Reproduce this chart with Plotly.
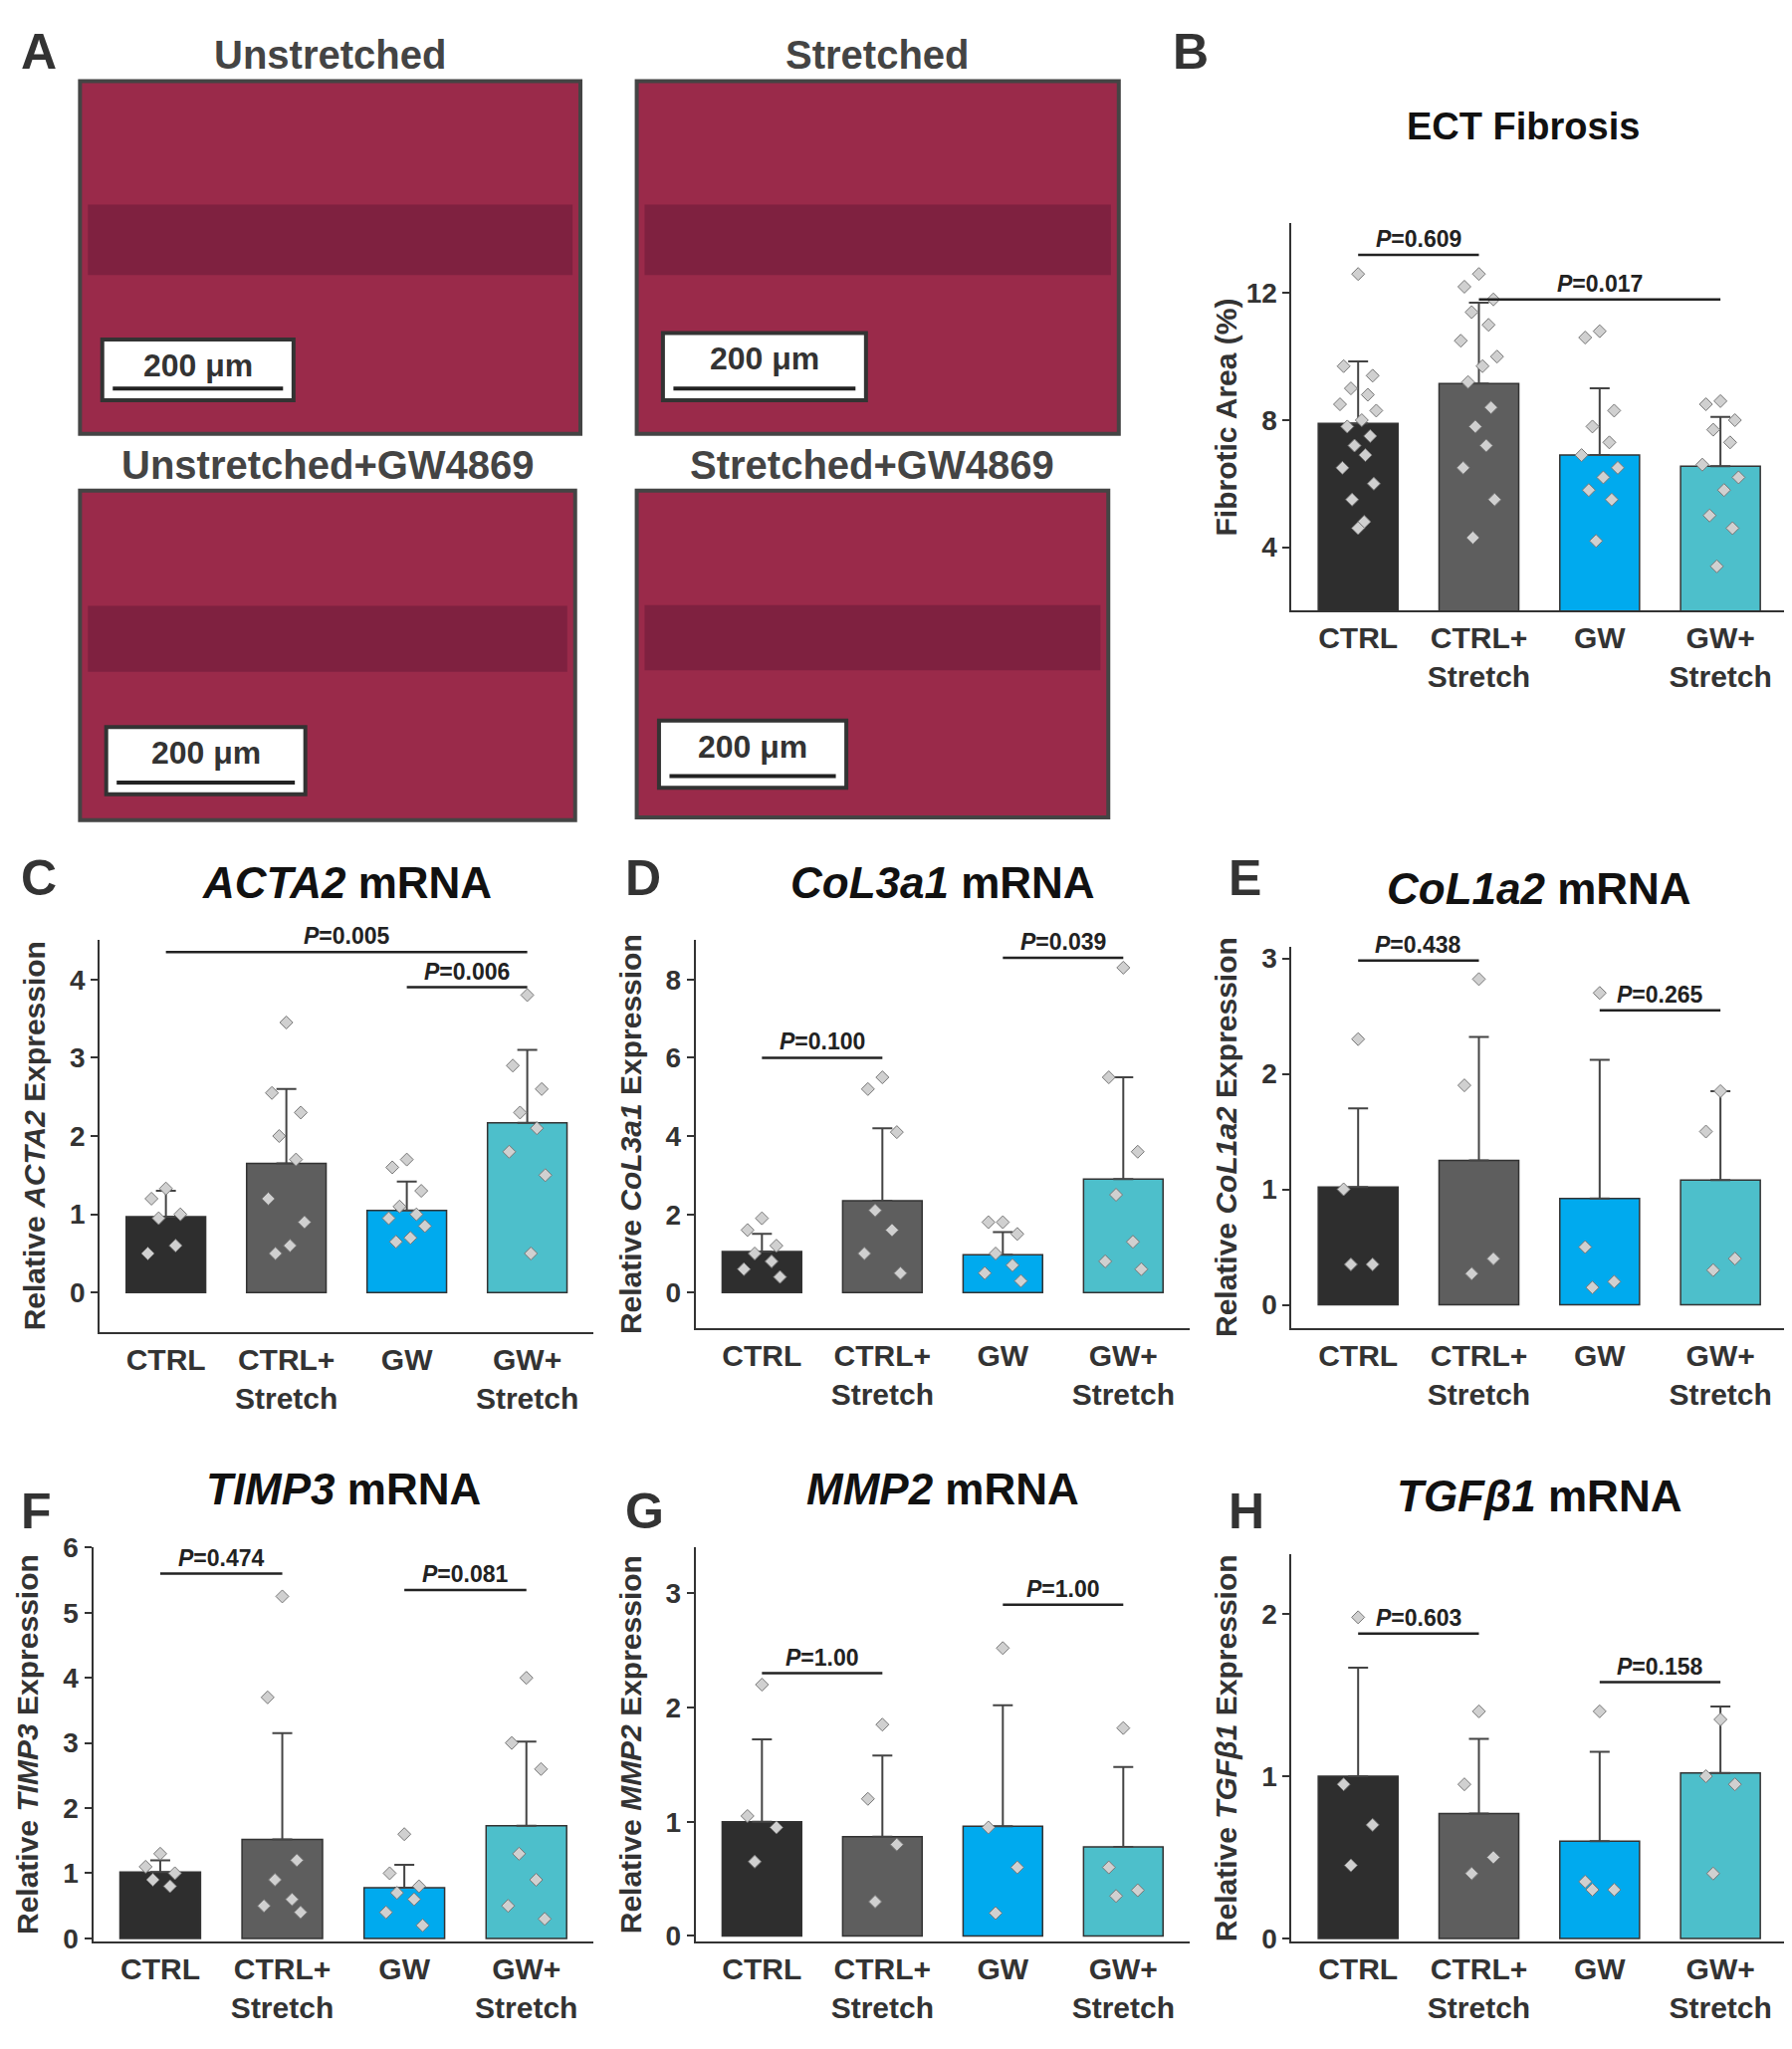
import plotly.graph_objects as go

W, H = 1800, 2058
SX, SY = 1368.0, 1565.0  # reference display coords

groups = ["CTRL", "CTRL+<br>Stretch", "GW", "GW+<br>Stretch"]
colors = ["#2e2e2e", "#5e5e5e", "#00aaee", "#4dbfcb"]

# Panel B
B_mean = [7.9, 9.15, 6.9, 6.55]
B_sd = [1.95, 2.55, 2.1, 1.55]
B_pts = [[12.6, 9.7, 9.4, 9.0, 8.8, 8.5, 8.3, 8.0, 7.8, 7.5, 7.2, 6.9, 6.5, 6.0, 5.5, 4.8, 4.6],
         [12.6, 12.2, 11.8, 11.4, 11.0, 10.5, 10.0, 9.7, 9.2, 8.4, 7.8, 7.2, 6.5, 5.5, 4.3],
         [10.8, 10.6, 8.3, 7.8, 7.3, 6.9, 6.5, 6.2, 5.8, 5.5, 4.2],
         [8.6, 8.5, 8.0, 7.7, 7.3, 6.6, 6.2, 5.8, 5.0, 4.6, 3.4]]
# Panel C
C_mean = [0.97, 1.65, 1.05, 2.17]
C_sd = [0.33, 0.95, 0.37, 0.93]
C_pts = [[1.33, 1.2, 1.0, 0.95, 0.6, 0.5],
         [3.45, 2.55, 2.3, 2.0, 1.7, 1.2, 0.9, 0.6, 0.5],
         [1.7, 1.6, 1.3, 1.1, 1.0, 0.95, 0.85, 0.7, 0.65],
         [3.8, 2.9, 2.6, 2.3, 2.1, 1.8, 1.5, 0.5]]
# Panel D
D_mean = [1.05, 2.35, 0.97, 2.9]
D_sd = [0.45, 1.85, 0.58, 2.6]
D_pts = [[1.9, 1.6, 1.2, 1.0, 0.8, 0.6, 0.4],
         [5.5, 5.2, 4.1, 2.1, 1.6, 1.0, 0.5],
         [1.8, 1.8, 1.5, 1.0, 0.7, 0.5, 0.3],
         [8.3, 5.5, 3.6, 2.5, 1.3, 0.8, 0.6]]
# Panel E
E_mean = [1.02, 1.25, 0.92, 1.08]
E_sd = [0.68, 1.07, 1.2, 0.77]
E_pts = [[2.3, 1.0, 0.35, 0.35], [2.82, 1.9, 0.4, 0.27], [2.7, 0.5, 0.2, 0.15], [1.85, 1.5, 0.4, 0.3]]
# Panel F
F_mean = [1.02, 1.52, 0.78, 1.73]
F_sd = [0.18, 1.63, 0.35, 1.29]
F_pts = [[1.3, 1.1, 1.0, 0.9, 0.8],
         [5.25, 3.7, 1.2, 0.9, 0.6, 0.5, 0.4],
         [1.6, 1.0, 0.8, 0.7, 0.6, 0.4, 0.2],
         [4.0, 3.0, 2.6, 1.3, 0.9, 0.5, 0.3]]
# Panel G
G_mean = [1.0, 0.87, 0.96, 0.78]
G_sd = [0.72, 0.71, 1.06, 0.7]
G_pts = [[2.2, 1.05, 0.95, 0.65], [1.85, 1.2, 0.8, 0.3], [2.52, 0.95, 0.6, 0.2], [1.82, 0.6, 0.4, 0.35]]
# Panel H
H_mean = [1.0, 0.77, 0.6, 1.02]
H_sd = [0.67, 0.46, 0.55, 0.41]
H_pts = [[1.98, 0.95, 0.7, 0.45], [1.4, 0.95, 0.5, 0.4], [1.4, 0.35, 0.3, 0.3], [1.35, 1.0, 0.95, 0.4]]

jit = [0.0, -0.12, 0.12, -0.06, 0.08, -0.15, 0.15, 0.03, -0.09, 0.1, -0.03, 0.06, -0.13, 0.13, -0.05, 0.05, 0.0]

FONT = "Liberation Sans"
fig = go.Figure()
shapes, annos = [], []

def px(x):
    return x / SX
def py(y):
    return 1 - y / SY

panels = [
    ("B", 1, "ECT Fibrosis", None, "Fibrotic Area (%)", B_mean, B_sd, B_pts, 980, 1358, 155, 455, [2, 14.2], 4, [(0, 1, 13.2, "0.609"), (1, 3, 11.8, "0.017")]),
    ("C", 2, None, "ACTA2", None, C_mean, C_sd, C_pts, 70, 447, 710, 1013, [-0.5, 4.5], 1, [(0, 3, 4.35, "0.005"), (2, 3, 3.9, "0.006")]),
    ("D", 3, None, "CoL3a1", None, D_mean, D_sd, D_pts, 525, 902, 710, 1010, [-0.9, 9.0], 2, [(0, 1, 6.0, "0.100"), (2, 3, 8.55, "0.039")]),
    ("E", 4, None, "CoL1a2", None, E_mean, E_sd, E_pts, 980, 1358, 715, 1010, [-0.2, 3.1], 1, [(0, 1, 2.98, "0.438"), (2, 3, 2.55, "0.265")]),
    ("F", 5, None, "TIMP3", None, F_mean, F_sd, F_pts, 65, 447, 1180, 1485, [-0.05, 6.0], 1, [(0, 1, 5.6, "0.474"), (2, 3, 5.35, "0.081")]),
    ("G", 6, None, "MMP2", None, G_mean, G_sd, G_pts, 525, 902, 1180, 1485, [-0.05, 3.4], 1, [(0, 1, 2.3, "1.00"), (2, 3, 2.9, "1.00")]),
    ("H", 7, None, "TGFβ1", None, H_mean, H_sd, H_pts, 980, 1358, 1185, 1485, [-0.02, 2.37], 1, [(0, 1, 1.88, "0.603"), (2, 3, 1.58, "0.158")]),
]

for (letter, k, title, gene, ylab, means, sds, pts, x0, x1, yt, yb, yr, dt, brs) in panels:
    xa = "x" if k == 1 else f"x{k}"
    ya = "y" if k == 1 else f"y{k}"
    xl = "xaxis" if k == 1 else f"xaxis{k}"
    yl = "yaxis" if k == 1 else f"yaxis{k}"
    fig.add_trace(go.Bar(x=[0, 1, 2, 3], y=means, marker=dict(color=colors, line=dict(color="#333", width=1.5)),
                         width=0.66, xaxis=xa, yaxis=ya, showlegend=False,
                         error_y=dict(type="data", symmetric=False, array=sds, arrayminus=[0] * 4,
                                      color="#444", thickness=2, width=10)))
    xs, ys = [], []
    for i, g in enumerate(pts):
        for j, v in enumerate(g):
            xs.append(i + jit[j % len(jit)])
            ys.append(v)
    fig.add_trace(go.Scatter(x=xs, y=ys, mode="markers", xaxis=xa, yaxis=ya, showlegend=False,
                             marker=dict(symbol="diamond", size=10, color="#d0d0d0", line=dict(color="#777", width=1))))
    fig.layout[xl] = dict(domain=[px(x0), px(x1)], anchor=ya, range=[-0.55, 3.55], tickvals=[0, 1, 2, 3],
                          ticktext=[f"<b>{g}</b>" for g in groups], showline=True, linecolor="#333", linewidth=2, ticks="",
                          tickfont=dict(family=FONT, size=30, color="#333"), showgrid=False, zeroline=False)
    tv = []
    v = 0 if yr[0] < 0.5 else dt
    while v <= yr[1]:
        tv.append(v)
        v += dt
    fig.layout[yl] = dict(domain=[py(yb), py(yt)], anchor=xa, range=yr, tickvals=tv,
                          ticktext=[f"<b>{t}</b>" for t in tv], showline=True, linecolor="#333",
                          linewidth=2, ticks="outside", ticklen=7, tickwidth=2, tickcolor="#333",
                          tickfont=dict(family=FONT, size=28, color="#333"), showgrid=False, zeroline=False)
    if ylab is None:
        ylab = f"Relative <i>{gene}</i> Expression"
    annos.append(dict(text=f"<b>{ylab}</b>", xref="paper", yref="paper", x=px(x0 - 50),
                      y=(py(yb) + py(yt)) / 2, textangle=-90, showarrow=False,
                      font=dict(family=FONT, size=30, color="#333"), xanchor="center", yanchor="middle"))
    ttl = title if title else f"<i>{gene}</i> mRNA"
    tsize = 38 if title else 44
    ty = yt - (75 if title else 45)
    tx = (px(x0) + px(x1)) / 2 - (px(12) if title else 0)
    annos.append(dict(text=f"<b>{ttl}</b>", xref="paper", yref="paper", x=tx, y=py(ty),
                      showarrow=False, font=dict(family=FONT, size=tsize, color="#111"),
                      xanchor="center", yanchor="middle"))
    lx = {"B": 888, "C": 8, "D": 470, "E": 930, "F": 8, "G": 470, "H": 930}[letter]
    lyy = {"B": 22, "C": 662, "D": 662, "E": 662, "F": 1152, "G": 1152, "H": 1152}[letter]
    annos.append(dict(text=f"<b>{letter}</b>", xref="paper", yref="paper", x=px(lx), y=py(lyy), showarrow=False,
                      xanchor="left", yanchor="middle", font=dict(family=FONT, size=50, color="#333")))
    for (a, b, yv, p) in brs:
        shapes.append(dict(type="line", xref=xa, yref=ya, x0=a, x1=b, y0=yv, y1=yv, line=dict(color="#222", width=2.5)))
        annos.append(dict(text=f"<b><i>P</i>={p}</b>", xref=xa, yref=ya, x=(a + b) / 2, y=yv, showarrow=False,
                          xanchor="center", yanchor="bottom", yshift=1, font=dict(family=FONT, size=23, color="#222")))

# Panel A: histology image placeholders
imgs = [("Unstretched", 55, 437, 45, 318, 72, 218, 245, 292),
        ("Stretched", 480, 848, 45, 318, 500, 655, 240, 292),
        ("Unstretched+GW4869", 55, 433, 362, 617, 75, 227, 545, 597),
        ("Stretched+GW4869", 480, 840, 362, 615, 497, 640, 540, 592)]
for (lab, x0, x1, y0, y1, sx0, sx1, sy0, sy1) in imgs:
    shapes.append(dict(type="rect", xref="paper", yref="paper", x0=px(x0), x1=px(x1), y0=py(y1), y1=py(y0),
                       fillcolor="#9a2a4a", line=dict(color="#444", width=4)))
    shapes.append(dict(type="rect", xref="paper", yref="paper", x0=px(x0 + 6), x1=px(x1 - 6), y0=py(y0 + (y1 - y0) * 0.55),
                       y1=py(y0 + (y1 - y0) * 0.35), fillcolor="#6e1c3a", line=dict(width=0), opacity=0.6))
    shapes.append(dict(type="rect", xref="paper", yref="paper", x0=px(sx0), x1=px(sx1), y0=py(sy1), y1=py(sy0),
                       fillcolor="white", line=dict(color="#333", width=4)))
    shapes.append(dict(type="line", xref="paper", yref="paper", x0=px(sx0 + 8), x1=px(sx1 - 8),
                       y0=py(sy1 - 9), y1=py(sy1 - 9), line=dict(color="#222", width=4)))
    annos.append(dict(text="<b>200 μm</b>", xref="paper", yref="paper", x=px((sx0 + sx1) / 2), y=py(sy0 + 20),
                      showarrow=False, font=dict(family=FONT, size=32, color="#333"),
                      xanchor="center", yanchor="middle"))
    annos.append(dict(text=f"<b>{lab}</b>", xref="paper", yref="paper", x=px((x0 + x1) / 2), y=py(y0 - 20),
                      showarrow=False, font=dict(family=FONT, size=40, color="#444"),
                      xanchor="center", yanchor="middle"))
annos.append(dict(text="<b>A</b>", xref="paper", yref="paper", x=px(8), y=py(22), showarrow=False,
                  xanchor="left", yanchor="middle", font=dict(family=FONT, size=50, color="#333")))

fig.update_layout(width=W, height=H, margin=dict(l=0, r=0, t=0, b=0), plot_bgcolor="white", paper_bgcolor="white",
                  shapes=shapes, annotations=annos, bargap=0.3)
fig.write_html("out.html")
